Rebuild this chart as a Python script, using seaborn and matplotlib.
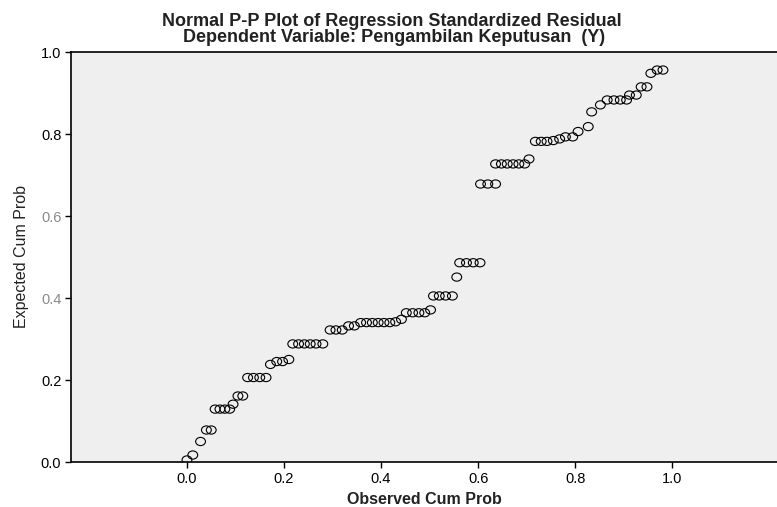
# Normal P-P plot of regression standardized residual (SPSS style)
import numpy as np
import pandas as pd
import matplotlib
matplotlib.use("Agg")
import matplotlib.pyplot as plt
import seaborn as sns
from matplotlib.path import Path
from matplotlib.transforms import Affine2D

# Values
observed = [0.000, 0.012, 0.028, 0.040, 0.050, 0.058, 0.068, 0.078, 0.088, 0.095,
            0.105, 0.115, 0.125, 0.137, 0.150, 0.163, 0.172, 0.185, 0.197, 0.210,
            0.218, 0.230, 0.242, 0.254, 0.266, 0.280, 0.295, 0.307, 0.320, 0.333,
            0.345, 0.358, 0.370, 0.382, 0.394, 0.406, 0.418, 0.430, 0.442, 0.452,
            0.465, 0.478, 0.490, 0.502, 0.508, 0.520, 0.533, 0.547, 0.556, 0.562,
            0.576, 0.590, 0.604, 0.605, 0.620, 0.636, 0.636, 0.648, 0.660, 0.672,
            0.684, 0.696, 0.705, 0.718, 0.730, 0.742, 0.755, 0.768, 0.780, 0.795,
            0.806, 0.827, 0.834, 0.852, 0.866, 0.880, 0.893, 0.906, 0.912, 0.926,
            0.936, 0.948, 0.956, 0.969, 0.981]
expected = [0.005, 0.017, 0.050, 0.078, 0.078, 0.129, 0.129, 0.129, 0.129, 0.141,
            0.161, 0.161, 0.206, 0.206, 0.206, 0.206, 0.238, 0.245, 0.245, 0.250,
            0.288, 0.288, 0.288, 0.288, 0.288, 0.288, 0.322, 0.322, 0.322, 0.332,
            0.332, 0.340, 0.340, 0.340, 0.340, 0.340, 0.340, 0.342, 0.348, 0.364,
            0.364, 0.364, 0.364, 0.371, 0.405, 0.405, 0.405, 0.405, 0.451, 0.486,
            0.486, 0.486, 0.486, 0.678, 0.678, 0.678, 0.727, 0.727, 0.727, 0.727,
            0.727, 0.727, 0.739, 0.782, 0.782, 0.782, 0.784, 0.788, 0.793, 0.793,
            0.806, 0.818, 0.854, 0.871, 0.883, 0.883, 0.883, 0.883, 0.895, 0.895,
            0.915, 0.915, 0.948, 0.956, 0.956]
x_ticks = [0.0, 0.2, 0.4, 0.6, 0.8, 1.0]
y_ticks = [0.0, 0.2, 0.4, 0.6, 0.8, 1.0]
title_lines = ["Normal P-P Plot of Regression Standardized Residual",
               "Dependent Variable: Pengambilan Keputusan  (Y)"]

df = pd.DataFrame({"Observed Cum Prob": observed, "Expected Cum Prob": expected})

sns.set_style("white")
plt.rcParams["font.family"] = ["Liberation Sans", "DejaVu Sans"]

fig = plt.figure(figsize=(7.77, 5.07), dpi=100)
ax = fig.add_axes([71 / 777, 45 / 507, 706 / 777, 410 / 507])
ax.set_facecolor("#efefef")

# slightly wide open circle, like the SPSS marker
ellipse = Path.unit_circle().transformed(Affine2D().scale(1.2, 1.0))

sns.scatterplot(data=df, x="Observed Cum Prob", y="Expected Cum Prob", ax=ax,
                marker=ellipse, s=50, facecolor="none", edgecolor="black",
                linewidth=0.8, legend=False)

ax.set_xlim(-0.239, 1.216)
ax.set_ylim(0, 1.0)
ax.set_xticks(x_ticks)
ax.set_yticks(y_ticks)
ax.set_xticklabels([f"{t:.1f}" for t in x_ticks])
ax.set_yticklabels([f"{t:.1f}" for t in y_ticks])

for side in ["left", "bottom", "top"]:
    ax.spines[side].set_color("black")
    ax.spines[side].set_linewidth(1.2)
ax.spines["right"].set_visible(False)

ax.tick_params(axis="both", direction="out", length=4, width=1, color="black",
               labelsize=10.5, labelcolor="black", pad=3, left=True, bottom=True)
for lab in ax.get_yticklabels():
    if lab.get_text() in ("0.4", "0.6"):
        lab.set_color("#8a8a8a")

ax.set_xlabel("Observed Cum Prob", fontsize=11.5, fontweight="bold", color="#222222")
ax.set_ylabel("Expected Cum Prob", fontsize=11.5, color="#222222")
ax.xaxis.set_label_coords(0.5, -0.073)
ax.yaxis.set_label_coords(-0.06, 0.5)

# two title lines, tight like the SPSS header
fig.text(392 / 777, 1 - 21 / 507, title_lines[0], ha="center", va="center",
         fontsize=13, fontweight="bold", color="#222222")
fig.text(394 / 777, 1 - 38 / 507, title_lines[1], ha="center", va="center",
         fontsize=13, fontweight="bold", color="#222222")

fig.savefig("out.png", dpi=100)
